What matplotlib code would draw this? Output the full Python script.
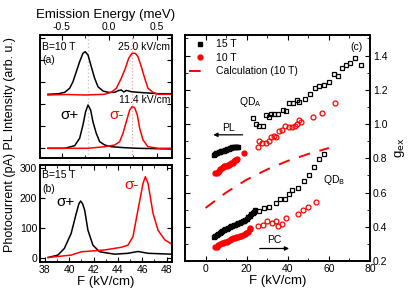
import numpy as np
import matplotlib
matplotlib.use("Agg")
import matplotlib.pyplot as plt
from matplotlib.lines import Line2D

plt.rcParams['font.family'] = ['Liberation Sans', 'DejaVu Sans']
plt.rcParams['xtick.direction'] = 'in'
plt.rcParams['ytick.direction'] = 'in'
plt.rcParams['axes.linewidth'] = 1.4

# ---- panel (a): PL spectra at B=10 T (energy in meV, intensity arb. u.)
E_hi_black = [-0.644, -0.539, -0.468, -0.416, -0.381, -0.346, -0.311, -0.276, -0.252, -0.223,
              -0.188, -0.153, -0.118, -0.065, -0.013, 0.058, 0.100, 0.127, 0.155, 0.180,
              0.233, 0.303, 0.408, 0.514, 0.654]
I_hi_black = [63.7, 64.2, 65.7, 69.7, 76.3, 86.3, 96.3, 104.7, 106.3, 103.0,
              91.3, 79.7, 71.3, 67.0, 65.7, 65.7, 67.5, 68.0, 66.0, 67.6,
              66.3, 65.7, 65.0, 64.3, 64.3]
E_hi_red = [-0.644, -0.45, -0.25, -0.05, 0.022, 0.075, 0.127, 0.170, 0.205, 0.240,
            0.275, 0.303, 0.338, 0.374, 0.408, 0.461, 0.514, 0.654]
I_hi_red = [63.0, 63.5, 63.0, 63.7, 65.7, 69.7, 79.7, 89.7, 99.7, 104.7,
            104.7, 101.3, 91.3, 79.7, 69.7, 65.7, 63.7, 63.7]

E_lo_black = [-0.644, -0.468, -0.363, -0.311, -0.276, -0.248, -0.223, -0.195, -0.171, -0.136,
              -0.100, -0.047, 0.022, 0.163, 0.303, 0.654]
I_lo_black = [9.7, 9.7, 12.3, 19.7, 33.0, 46.3, 53.0, 48.0, 36.3, 24.7,
              16.3, 13.0, 11.3, 10.3, 9.7, 9.0]
E_lo_red = [-0.644, -0.223, -0.047, 0.058, 0.110, 0.145, 0.180, 0.216, 0.240, 0.268,
            0.296, 0.321, 0.356, 0.408, 0.514, 0.654]
I_lo_red = [9.7, 9.7, 11.3, 13.0, 16.3, 24.7, 36.3, 48.0, 51.3, 50.3,
            43.0, 29.7, 18.0, 11.3, 9.7, 9.7]
E_peak_plus = -0.226
E_peak_minus = 0.237

# ---- panel (b): photocurrent spectra at B=15 T
F_b_black = [38.27, 39.07, 39.6, 40.16, 40.58, 40.80, 40.94, 41.10, 41.27, 41.54, 41.95, 42.5,
             43.74, 44.83, 45.65, 46.48, 48.4]
I_b_black = [3, 11, 33, 83, 150, 182, 191, 182, 161, 94, 44, 22, 14, 17, 23, 17, 14]
F_b_red = [38.27, 40.16, 40.99, 42.9, 44.28, 44.83, 45.24, 45.65, 46.07, 46.26,
           46.48, 46.89, 47.3, 47.85, 48.4]
I_b_red = [3, 11, 22, 28, 37, 44, 72, 161, 250, 272, 250, 150, 94, 62, 48]

# ---- panel (c): g-factors vs field
# QD_A
FA15_pl = [4.0, 4.6, 5.2, 5.8, 6.4, 7.0, 7.6, 8.2, 8.8, 9.4, 10.0, 10.6, 11.2,
           11.8, 12.4, 13.0, 13.6, 14.2, 14.8, 15.4, 16.0]
gA15_pl = [0.820, 0.824, 0.828, 0.831, 0.834, 0.837, 0.840, 0.843, 0.845, 0.848, 0.851,
           0.854, 0.857, 0.859, 0.861, 0.863, 0.864, 0.865, 0.866, 0.867, 0.868]
FA15_pc = [22.9, 24.6, 26.2, 28.0, 29.4, 31.0, 32.0, 33.5, 35.2, 37.5, 39.3, 40.7, 42.5,
           44.4, 45.7, 48.2, 50.6, 53.0, 55.1, 57.8, 60.0, 62.5, 64.3, 66.6, 68.2,
           70.3, 72.9, 75.6]
gA15_pc = [1.035, 1.000, 0.990, 0.990, 1.050, 1.040, 1.058, 1.060, 1.060, 1.084, 1.074,
           1.120, 1.123, 1.140, 1.130, 1.148, 1.178, 1.210, 1.220, 1.226, 1.246,
           1.290, 1.280, 1.326, 1.344, 1.357, 1.383, 1.344]
FA10_pl = [4.8, 5.4, 6.0, 6.6, 7.2, 7.8, 8.4, 9.0, 9.6, 10.2, 10.8, 11.4, 12.0,
           12.6, 13.2, 13.8, 14.4, 15.0, 15.4, 18.8]
gA10_pl = [0.713, 0.716, 0.722, 0.728, 0.736, 0.745, 0.750, 0.754, 0.757, 0.756, 0.758,
           0.760, 0.765, 0.770, 0.775, 0.782, 0.787, 0.792, 0.795, 0.830]
FA10_pc = [25.4, 26.2, 27.6, 29.4, 30.7, 31.8, 33.1, 34.1, 35.9, 37.0, 38.5, 40.4,
           42.0, 43.6, 44.4, 45.7, 46.4, 52.2, 56.6, 63.2]
gA10_pc = [0.867, 0.900, 0.889, 0.892, 0.902, 0.924, 0.931, 0.927, 0.960, 0.967, 0.986,
           0.980, 0.984, 0.990, 0.998, 1.025, 1.013, 1.043, 1.065, 1.120]
# QD_B
FB15_pl = [4.0, 4.7, 5.4, 6.1, 6.8, 7.5, 8.2, 8.9, 9.6, 10.3, 11.0, 11.7, 12.4, 13.1,
           13.8, 14.5, 15.2, 15.9, 16.6, 17.3, 18.0, 18.7, 19.4, 20.1, 20.8, 21.5,
           22.2, 22.9, 23.6, 24.2]
gB15_pl = [0.341, 0.347, 0.352, 0.358, 0.363, 0.368, 0.374, 0.380, 0.385, 0.389, 0.394,
           0.398, 0.402, 0.405, 0.409, 0.412, 0.416, 0.420, 0.424, 0.428, 0.432, 0.436,
           0.442, 0.448, 0.455, 0.464, 0.472, 0.480, 0.488, 0.497]
FB15_pc = [25.9, 28.3, 30.7, 34.4, 36.0, 38.5, 40.4, 42.0, 44.9, 47.7, 50.1, 52.8, 55.4, 57.7]
gB15_pc = [0.490, 0.507, 0.517, 0.540, 0.560, 0.560, 0.589, 0.615, 0.625, 0.669, 0.703,
           0.751, 0.795, 0.826]
FB10_pl = [4.8, 5.5, 6.2, 7.0, 7.8, 8.6, 9.4, 10.2, 11.0, 11.8, 12.6, 13.4, 14.2,
           15.0, 15.8, 16.6, 17.4, 18.2, 19.0, 19.8, 20.6, 21.4, 21.8]
gB10_pl = [0.279, 0.284, 0.292, 0.300, 0.304, 0.307, 0.310, 0.313, 0.318, 0.323, 0.328,
           0.332, 0.336, 0.339, 0.342, 0.344, 0.346, 0.349, 0.356, 0.362, 0.372, 0.384, 0.390]
FB10_pc = [25.4, 27.8, 29.9, 32.3, 34.4, 35.2, 37.2, 39.3, 44.8, 47.2, 49.6, 53.8]
gB10_pc = [0.405, 0.409, 0.433, 0.423, 0.433, 0.404, 0.419, 0.449, 0.474, 0.497,
           0.517, 0.546]
# calculation (10 T)
F_calc = [0, 10, 20, 30, 40, 50, 60]
g_calc = [0.51, 0.60, 0.675, 0.735, 0.785, 0.825, 0.86]

W, H = 415, 294
fig = plt.figure(figsize=(W / 100, H / 100), dpi=100)


def box(x0, y0, x1, y1):
    return [x0 / W, 1 - y1 / H, (x1 - x0) / W, (y1 - y0) / H]


FS = 7.5

# ---------------- panel (a)
axa = fig.add_axes(box(40, 35, 172, 158))
axa.axvline(E_peak_plus, color='#c8c8c8', ls=':', lw=1.0)
axa.axvline(E_peak_minus, color='#f4a0a0', ls=':', lw=0.9)
axa.plot(E_hi_black, I_hi_black, color='black', lw=1.1)
axa.plot(E_hi_red, I_hi_red, color='red', lw=1.1)
axa.plot(E_lo_black, I_lo_black, color='black', lw=1.1)
axa.plot(E_lo_red, I_lo_red, color='red', lw=1.1)
axa.set_xlim(-0.728, 0.661)
axa.set_ylim(0, 123)
axa.xaxis.tick_top()
axa.xaxis.set_label_position('top')
axa.set_xticks([-0.5, 0.0, 0.5])
axa.set_xticklabels(['-0.5', '0.0', '0.5'])
axa.set_xticks([-0.25, 0.25], minor=True)
axa.tick_params(axis='x', which='both', top=True, bottom=True, labelsize=FS, pad=2)
axa.set_yticks([10, 32, 54, 76, 98, 120])
axa.tick_params(axis='y', which='both', left=True, right=True, labelleft=False)
axa.set_xlabel('Emission Energy (meV)', fontsize=9.5, labelpad=3)
axa.text(0.015, 0.905, 'B=10 T', transform=axa.transAxes, fontsize=FS, va='center')
axa.text(0.015, 0.80, '(a)', transform=axa.transAxes, fontsize=FS, va='center')
axa.text(0.985, 0.905, '25.0 kV/cm', transform=axa.transAxes, fontsize=FS,
         va='center', ha='right')
axa.text(0.985, 0.47, '11.4 kV/cm', transform=axa.transAxes, fontsize=FS,
         va='center', ha='right')
axa.text(0.227, 0.35, 'σ+', transform=axa.transAxes, fontsize=11,
         va='center', ha='center')
axa.text(0.583, 0.35, 'σ-', transform=axa.transAxes, fontsize=11,
         va='center', ha='center', color='red')

# ---------------- panel (b)
axb = fig.add_axes(box(40, 165, 172, 262))
axb.plot(F_b_black, I_b_black, color='black', lw=1.1)
axb.plot(F_b_red, I_b_red, color='red', lw=1.1)
axb.set_xlim(37.6, 48.45)
axb.set_ylim(-12, 311)
axb.set_xticks([38, 40, 42, 44, 46, 48])
axb.set_xticks([39, 41, 43, 45, 47], minor=True)
axb.set_yticks([0, 100, 200, 300])
axb.tick_params(which='both', labelsize=FS, pad=2, top=True, right=True)
axb.set_xlabel('F (kV/cm)', fontsize=9.5, labelpad=1)
axb.text(0.015, 0.897, 'B=15 T', transform=axb.transAxes, fontsize=FS, va='center')
axb.text(0.015, 0.75, '(b)', transform=axb.transAxes, fontsize=FS, va='center')
axb.text(0.19, 0.62, 'σ+', transform=axb.transAxes, fontsize=11,
         va='center', ha='center')
axb.text(0.69, 0.79, 'σ-', transform=axb.transAxes, fontsize=11,
         va='center', ha='center', color='red')

fig.text(10 / W, 1 - 145 / H, 'Photocurrent (pA) PL Intensity (arb. u.)',
         rotation=90, fontsize=9, ha='center', va='center')

# ---------------- panel (c)
axc = fig.add_axes(box(185, 35, 370, 261))
sq = dict(marker='s', ls='none', ms=2.9)
ci = dict(marker='o', ls='none', ms=3.5)
axc.plot(FA15_pl, gA15_pl, color='black', **sq)
axc.plot(FB15_pl, gB15_pl, color='black', **sq)
axc.plot(FA15_pc, gA15_pc, color='black', mfc='none', mew=0.9, **sq)
axc.plot(FB15_pc, gB15_pc, color='black', mfc='none', mew=0.9, **sq)
axc.plot(FA10_pl, gA10_pl, color='red', **ci)
axc.plot(FB10_pl, gB10_pl, color='red', **ci)
axc.plot(FA10_pc, gA10_pc, color='red', mfc='none', mew=0.9, **ci)
axc.plot(FB10_pc, gB10_pc, color='red', mfc='none', mew=0.9, **ci)
axc.plot(F_calc, g_calc, color='red', lw=1.4, dashes=(6, 5))
axc.set_xlim(-10, 80)
axc.set_ylim(0.2, 1.52)
axc.set_xticks([0, 20, 40, 60, 80])
axc.set_xticks([-10, 10, 30, 50, 70], minor=True)
axc.set_yticks([0.2, 0.4, 0.6, 0.8, 1.0, 1.2, 1.4])
axc.set_yticks([0.3, 0.5, 0.7, 0.9, 1.1, 1.3, 1.5], minor=True)
axc.yaxis.tick_right()
axc.yaxis.set_label_position('right')
axc.tick_params(which='both', labelsize=FS, pad=2, top=True, left=True, right=True)
axc.set_xlabel('F (kV/cm)', fontsize=9.5, labelpad=1)
axc.set_ylabel('g$_{\\mathrm{ex}}$', fontsize=9.5, labelpad=4)

axc.text(16.5, 1.13, 'QD$_\\mathrm{A}$', fontsize=FS, va='center')
axc.text(57, 0.675, 'QD$_\\mathrm{B}$', fontsize=FS, va='center')
axc.text(73.2, 1.447, '(c)', fontsize=FS, va='center', ha='center')
axc.text(11.3, 0.977, 'PL', fontsize=FS, va='center', ha='center')
axc.annotate('', xy=(2.4, 0.937), xytext=(19.4, 0.937),
             arrowprops=dict(arrowstyle='-|>', color='black', lw=0.9,
                             mutation_scale=6))
axc.text(33.5, 0.321, 'PC', fontsize=FS, va='center', ha='center')
axc.annotate('', xy=(42, 0.273), xytext=(25, 0.273),
             arrowprops=dict(arrowstyle='-|>', color='black', lw=0.9,
                             mutation_scale=6))

handles = [Line2D([], [], color='black', marker='s', ls='none', ms=2.9),
           Line2D([], [], color='red', marker='o', ls='none', ms=3.5),
           Line2D([], [], color='red', lw=1.4, dashes=(6, 5))]
axc.legend(handles, ['15 T', '10 T', 'Calculation (10 T)'], loc='upper left',
           frameon=False, fontsize=FS, handlelength=2.0, handletextpad=0.6,
           labelspacing=0.35, borderaxespad=0.2, borderpad=0.2)

fig.savefig('out.png', dpi=100)
